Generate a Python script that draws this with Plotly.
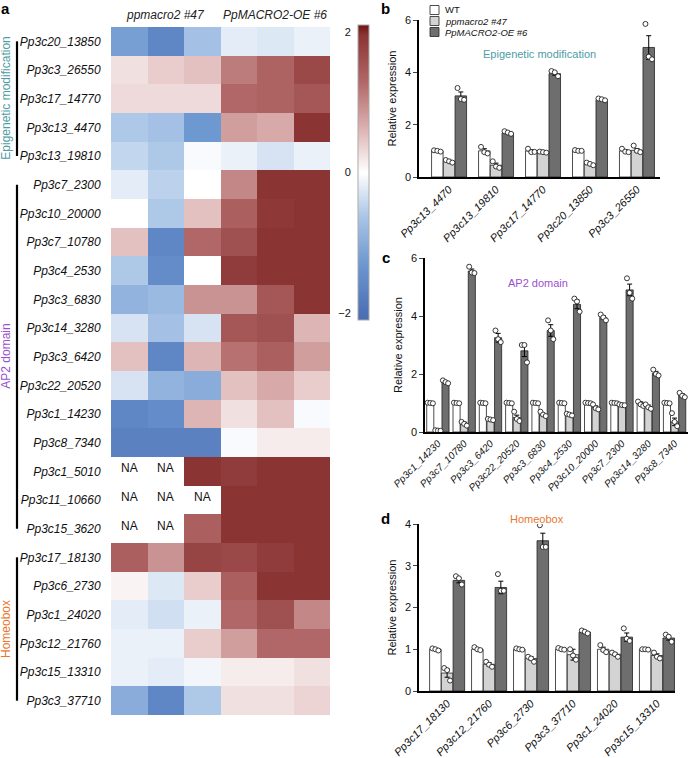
import plotly.graph_objects as go

W, H = 690, 758
def fx(p): return p / W
def fy(p): return 1 - p / H

FONT = "Arial, Liberation Sans, Helvetica, sans-serif"

# ---------------- heatmap data ----------------
heat_genes = ["Pp3c20_13850", "Pp3c3_26550", "Pp3c17_14770", "Pp3c13_4470", "Pp3c13_19810",
              "Pp3c7_2300", "Pp3c10_20000", "Pp3c7_10780", "Pp3c4_2530", "Pp3c3_6830",
              "Pp3c14_3280", "Pp3c3_6420", "Pp3c22_20520", "Pp3c1_14230", "Pp3c8_7340",
              "Pp3c1_5010", "Pp3c11_10660", "Pp3c15_3620",
              "Pp3c17_18130", "Pp3c6_2730", "Pp3c1_24020", "Pp3c12_21760", "Pp3c15_13310", "Pp3c3_37710"]
heat_conditions = ["ppmacro2 #47", "PpMACRO2-OE #6"]
heat_values = [
    [-1.2, -1.6, -0.7, -0.2, -0.25, -0.15],
    [0.25, 0.4, 0.5, 1.1, 1.35, 1.7],
    [0.3, 0.3, 0.3, 1.3, 1.35, 1.5],
    [-0.6, -0.7, -1.3, 0.8, 0.7, 1.95],
    [-0.45, -0.6, -0.05, -0.15, -0.3, -0.15],
    [-0.2, -0.5, 0.0, 1.0, 1.95, 1.95],
    [0.0, -0.6, 0.5, 1.4, 1.9, 1.95],
    [0.5, -1.6, 1.3, 1.6, 1.95, 1.95],
    [-0.6, -1.5, 0.0, 1.85, 1.95, 1.95],
    [-0.9, -0.8, 0.9, 0.9, 1.5, 1.95],
    [-0.3, -0.7, -0.3, 1.5, 1.6, 0.6],
    [0.5, -1.6, 0.6, 1.2, 1.4, 0.8],
    [-0.3, -0.9, -1.0, 0.5, 0.7, 0.4],
    [-1.6, -1.5, 0.6, 0.25, 0.5, -0.05],
    [-1.7, -1.7, -1.7, -0.05, 0.15, 0.15],
    [None, None, 1.95, 1.85, 1.95, 1.95],
    [None, None, None, 1.95, 1.95, 1.95],
    [None, None, 1.4, 1.95, 1.95, 1.95],
    [1.4, 0.9, 1.75, 1.7, 1.85, 1.95],
    [0.1, -0.25, 0.4, 1.4, 1.95, 1.95],
    [-0.2, -0.35, -0.15, 1.3, 1.6, 1.0],
    [-0.15, -0.15, 0.4, 0.8, 1.3, 1.3],
    [-0.15, -0.2, -0.1, 0.15, 0.15, 0.25],
    [-1.0, -1.6, -0.6, 0.25, 0.25, 0.35],
]
group_names = ["Epigenetic modification", "AP2 domain", "Homeobox"]
group_sizes = [5, 13, 6]
group_colors = ["#4e9ca6", "#9b4fcf", "#e8762d"]

# ---------------- bar chart data ----------------
series_names = ["WT", "<i>ppmacro2 #47</i>", "<i>PpMACRO2-OE #6</i>"]
series_fill = ["#ffffff", "#d3d3d3", "#6e6e6e"]

b_genes = ["Pp3c13_4470", "Pp3c13_19810", "Pp3c17_14770", "Pp3c20_13850", "Pp3c3_26550"]
b_mean = [[1.0, 1.0, 1.0, 1.0, 1.0],
          [0.6, 0.45, 0.95, 0.5, 1.02],
          [3.1, 1.68, 3.95, 2.95, 4.95]]
b_err = [[0.02, 0.08, 0.04, 0.01, 0.04],
         [0.04, 0.08, 0.01, 0.03, 0.07],
         [0.15, 0.03, 0.06, 0.02, 0.45]]
b_pts = [[[1.02, 1.0, 0.97], [1.15, 0.95, 0.9], [1.08, 0.95, 0.96], [1.03, 1.0, 1.0], [1.08, 0.97, 0.95]],
         [[0.65, 0.6, 0.55], [0.6, 0.4, 0.35], [0.97, 0.95, 0.93], [0.55, 0.5, 0.45], [1.2, 1.0, 0.95]],
         [[3.4, 2.98, 2.95], [1.75, 1.7, 1.65], [4.05, 4.0, 3.85], [3.0, 2.97, 2.93], [5.85, 4.6, 4.5]]]

c_genes = ["Pp3c1_14230", "Pp3c7_10780", "Pp3c3_6420", "Pp3c22_20520", "Pp3c3_6830",
           "Pp3c4_2530", "Pp3c10_20000", "Pp3c7_2300", "Pp3c14_3280", "Pp3c8_7340"]
c_mean = [[1.0, 1.0, 1.0, 1.0, 1.0, 1.0, 1.0, 1.0, 1.0, 1.0],
          [0.05, 0.3, 0.43, 0.5, 0.6, 0.6, 0.85, 0.94, 0.88, 0.35],
          [1.72, 5.55, 3.25, 2.8, 3.5, 4.4, 3.95, 4.9, 2.02, 1.27]]
c_err = [[0.01, 0.01, 0.01, 0.01, 0.01, 0.01, 0.01, 0.01, 0.04, 0.01],
         [0.02, 0.04, 0.02, 0.08, 0.04, 0.02, 0.05, 0.01, 0.05, 0.13],
         [0.03, 0.07, 0.15, 0.2, 0.2, 0.15, 0.06, 0.2, 0.07, 0.05]]
c_pts = [[[1.01, 1.0, 0.99]] * 8 + [[1.05, 0.95, 0.9], [1.01, 1.0, 0.99]],
         [[0.06, 0.05, 0.04], [0.35, 0.28, 0.22], [0.45, 0.43, 0.41], [0.7, 0.45, 0.38],
          [0.7, 0.6, 0.55], [0.63, 0.6, 0.57], [0.95, 0.82, 0.78], [0.95, 0.93, 0.92],
          [0.95, 0.85, 0.8], [0.65, 0.35, 0.2]],
         [[1.78, 1.72, 1.68], [5.7, 5.5, 5.48], [3.5, 3.2, 3.1], [3.0, 3.0, 2.4],
          [3.85, 3.5, 3.2], [4.6, 4.5, 4.15], [4.05, 3.95, 3.85], [5.3, 4.8, 4.6],
          [2.15, 2.0, 1.95], [1.35, 1.25, 1.2]]]

d_genes = ["Pp3c17_18130", "Pp3c12_21760", "Pp3c6_2730", "Pp3c3_37710", "Pp3c1_24020", "Pp3c15_13310"]
d_mean = [[1.0, 1.0, 1.0, 1.0, 1.0, 1.0],
          [0.43, 0.64, 0.78, 0.87, 0.88, 0.85],
          [2.65, 2.48, 3.6, 1.41, 1.29, 1.27]]
d_err = [[0.01, 0.02, 0.01, 0.01, 0.05, 0.01],
         [0.1, 0.04, 0.04, 0.13, 0.03, 0.04],
         [0.06, 0.15, 0.18, 0.03, 0.1, 0.05]]
d_pts = [[[1.02, 1.0, 0.97], [1.05, 1.0, 0.98], [1.02, 1.0, 0.99], [1.03, 1.0, 0.99], [1.1, 0.98, 0.93], [1.0, 1.0, 0.99]],
         [[0.55, 0.5, 0.25], [0.7, 0.63, 0.58], [0.82, 0.78, 0.7], [1.0, 0.85, 0.75], [0.92, 0.88, 0.82], [0.92, 0.82, 0.78]],
         [[2.75, 2.7, 2.55], [2.8, 2.4, 2.4], [3.97, 3.45, 3.45], [1.45, 1.42, 1.38], [1.5, 1.25, 1.2], [1.35, 1.3, 1.18]]]

fig = go.Figure()

def note(x, y, text, size, color, xref="paper", yref="paper", **kw):
    fig.add_annotation(x=x, y=y, xref=xref, yref=yref, text=text, showarrow=False,
                       xanchor=kw.pop("xanchor", "center"), yanchor=kw.pop("yanchor", "middle"),
                       font=dict(size=size, family=FONT, color=color), **kw)

# ---------------- heatmap ----------------
colorscale = [[0.0, "#4a6bb2"], [0.18, "#6a95cf"], [0.35, "#aac5e6"], [0.5, "#ffffff"],
              [0.65, "#dcb1b1"], [0.8, "#b36a6a"], [0.965, "#8b3434"], [1.0, "#6b1515"]]
ZMIN, ZMAX = -2.1, 2.1
ncol = len(heat_values[0])
fig.add_trace(go.Heatmap(
    z=heat_values, x=list(range(ncol)), y=heat_genes,
    colorscale=colorscale, zmin=ZMIN, zmax=ZMAX, hoverongaps=False,
    xaxis="x", yaxis="y",
    colorbar=dict(x=fx(358), xanchor="left", xpad=0, ypad=0, thickness=11,
                  len=295 / H, lenmode="fraction", y=fy(25), yanchor="top",
                  showticklabels=False, ticks="", outlinewidth=1, outlinecolor="#aaaaaa"),
))
for r, row in enumerate(heat_values):
    for c, v in enumerate(row):
        if v is None:
            note(c, heat_genes[r], "NA", 12, "#111", xref="x", yref="y", yshift=3)

for k, cond in enumerate(heat_conditions):
    note(1 + 3 * k, fy(15), f"<i>{cond}</i>", 12, "#222", xref="x")

start = 0
for name, size, col in zip(group_names, group_sizes, group_colors):
    fig.add_shape(type="line", xref="paper", yref="y", x0=fx(17), x1=fx(17), y0=start, y1=start + size - 1,
                  line=dict(color="black", width=2.2))
    note(fx(6), start + (size - 1) / 2, name, 12, col, yref="y", textangle=-90)
    start += size

fig.add_trace(go.Scatter(x=[], y=[], xaxis="x5", yaxis="y5", showlegend=False))

# ---------------- bar panels ----------------
def add_panel(genes, means, errs, pts, xa, ya, offset_u, width_u, jit_u):
    n = len(genes)
    for k in range(3):
        xs = [i + (k - 1) * offset_u for i in range(n)]
        fig.add_trace(go.Bar(
            x=xs, y=means[k], width=width_u, name=series_names[k], showlegend=False, xaxis=xa, yaxis=ya,
            marker=dict(color=series_fill[k], line=dict(color="#222", width=0.8)),
            error_y=dict(type="data", array=errs[k], color="black", thickness=1, width=2.5),
        ))
    for k in range(3):
        xs = [i + (k - 1) * offset_u for i in range(n)]
        px_, py_ = [], []
        for i in range(n):
            for j, v in enumerate(pts[k][i]):
                px_.append(xs[i] + (j - 1) * jit_u)
                py_.append(v)
        fig.add_trace(go.Scatter(
            x=px_, y=py_, mode="markers", showlegend=False, xaxis=xa, yaxis=ya,
            marker=dict(symbol="circle", size=5, color="white", line=dict(color="#222", width=0.9)),
        ))

add_panel(b_genes, b_mean, b_err, b_pts, "x2", "y2", 0.25, 0.245, 0.07)
add_panel(c_genes, c_mean, c_err, c_pts, "x3", "y3", 0.29, 0.27, 0.1)
add_panel(d_genes, d_mean, d_err, d_pts, "x4", "y4", 0.28, 0.275, 0.07)

tickfont = dict(size=11, family=FONT, color="#111")
def xax(domain, rng, genes, size, anchor):
    return dict(domain=domain, range=rng, tickvals=list(range(len(genes))), ticktext=genes,
                tickangle=-45, ticks="", showline=True, linecolor="black", linewidth=1.5,
                showgrid=False, zeroline=False, automargin=False, anchor=anchor,
                tickfont=dict(size=size, family=FONT, color="#111", style="italic"))
def yax(domain, rng, dtick, anchor):
    return dict(domain=domain, range=rng, dtick=dtick, ticks="outside", ticklen=4, tickwidth=1,
                showline=True, linecolor="black", linewidth=1.5, showgrid=False, zeroline=False,
                anchor=anchor, tickfont=tickfont, automargin=False,
                title=dict(text="Relative expression", font=dict(size=11, family=FONT, color="#111"), standoff=6))

fig.update_layout(
    template="none",
    width=W, height=H, margin=dict(l=0, r=0, t=0, b=0, pad=0), autosize=False,
    plot_bgcolor="white", paper_bgcolor="white", barmode="overlay", showlegend=False,
    font=dict(family=FONT, color="#111"),
    xaxis=dict(domain=[fx(111), fx(330)], range=[-0.5, ncol - 0.5], visible=False, anchor="y", automargin=False),
    yaxis=dict(domain=[fy(715), fy(27)], autorange="reversed", anchor="x", ticks="outside",
               ticklen=7, tickcolor="rgba(0,0,0,0)", showgrid=False, zeroline=False, showline=False,
               automargin=False,
               tickfont=dict(size=12, family=FONT, color="#111", style="italic")),
    xaxis5=dict(domain=[fx(358), fx(369)], range=[0, 1], visible=False, anchor="y5", automargin=False),
    yaxis5=dict(domain=[fy(320), fy(25)], range=[ZMIN, ZMAX], anchor="x5", side="left",
                tickvals=[-2, 0, 2], ticktext=["\u22122", "0", "2"], ticks="outside", ticklen=4,
                tickcolor="rgba(0,0,0,0)", showline=False, showgrid=False, zeroline=False,
                tickfont=tickfont, automargin=False),
    xaxis2=xax([fx(419), fx(660)], [-0.64, 4.49], b_genes, 11, "y2"),
    yaxis2=yax([fy(177), fy(20)], [0, 6], 2, "x2"),
    xaxis3=xax([fx(425), fx(688)], [-0.49, 9.51], c_genes, 10, "y3"),
    yaxis3=yax([fy(432), fy(258)], [0, 6], 2, "x3"),
    xaxis4=xax([fx(419), fx(675)], [-0.67, 5.43], d_genes, 11, "y4"),
    yaxis4=yax([fy(691), fy(524)], [0, 4], 1, "x4"),
)

# manual compact legend (panel b)
for k, (name, fill) in enumerate(zip(series_names, series_fill)):
    yc = 10 + 11 * k
    fig.add_shape(type="rect", xref="paper", yref="paper", x0=fx(430), x1=fx(439),
                  y0=fy(yc + 4.5), y1=fy(yc - 4.5), fillcolor=fill, line=dict(color="#222", width=0.8))
    note(fx(443), fy(yc), name, 9.5, "#111", xanchor="left")

note(0.5, fy(54), "Epigenetic modification", 11, group_colors[0], xref="x2 domain")
note(0.43, fy(283), "AP2 domain", 11, group_colors[1], xref="x3 domain")
note(0.46, fy(519), "Homeobox", 11, group_colors[2], xref="x4 domain")
for letter, x, y in [("a", 5, 8), ("b", 386, 8), ("c", 386, 257), ("d", 386, 518)]:
    note(fx(x), fy(y), f"<b>{letter}</b>", 15, "black")

fig.write_html("out.html", config={"displayModeBar": False},
               post_script="document.body.style.margin='0';document.body.style.overflow='hidden';")
